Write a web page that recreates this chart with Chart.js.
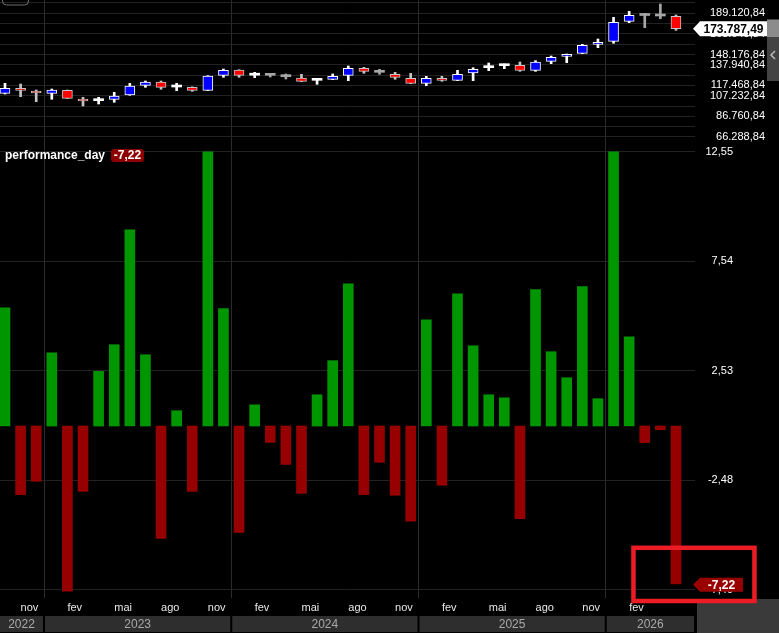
<!DOCTYPE html>
<html>
<head>
<meta charset="utf-8">
<script src="https://cdn.jsdelivr.net/npm/chart.js@4.4.1/dist/chart.umd.min.js"></script>
<style>
  html, body { margin: 0; padding: 0; background: #000; }
  #wrap { position: relative; width: 779px; height: 633px; }
</style>
</head>
<body>
<div id="wrap"><canvas id="perfChart"></canvas></div>
<script>
const periods = [
  'out/22', 'nov/22', 'dez/22',
  'jan/23', 'fev/23', 'mar/23', 'abr/23', 'mai/23', 'jun/23', 'jul/23', 'ago/23', 'set/23', 'out/23', 'nov/23', 'dez/23',
  'jan/24', 'fev/24', 'mar/24', 'abr/24', 'mai/24', 'jun/24', 'jul/24', 'ago/24', 'set/24', 'out/24', 'nov/24', 'dez/24',
  'jan/25', 'fev/25', 'mar/25', 'abr/25', 'mai/25', 'jun/25', 'jul/25', 'ago/25', 'set/25', 'out/25', 'nov/25', 'dez/25',
  'jan/26', 'fev/26', 'mar/26', 'abr/26', 'mai/26'
];

// monthly candles
const open = [
  109681, 114646, 111965, 109681, 112660, 104021, 102336, 103726, 107993, 117625, 120902, 115937, 115639, 112660, 127556,
  132818, 127654, 127556, 126166, 124874, 122590, 123583, 127556, 134505, 130535, 128549, 124576,
  119611, 124576, 122590, 129839, 135101, 137088, 137485, 132520, 141457, 146422, 149401, 158338,
  161317, 181177, 186937, 186440, 186142
];
const high = [
  119611, 118916, 112958, 113951, 112958, 105712, 105712, 110674, 119611, 121895, 121895, 119611, 116100, 127157, 133811,
  133100, 130535, 129542, 128846, 128549, 123881, 128846, 136790, 135499, 133513, 130535, 129542,
  126563, 126563, 132520, 135101, 139769, 138776, 140762, 142053, 146720, 148700, 158338, 163601,
  185149, 191107, 189121, 198356, 187433
];
const low = [
  108990, 106304, 101340, 103726, 104400, 97070, 99056, 100744, 107700, 115639, 113654, 112263, 111667, 112400, 125569,
  125569, 125172, 125867, 123881, 121300, 118618, 123300, 122193, 129542, 128549, 123583, 119300,
  117228, 121597, 122300, 122193, 132123, 134108, 131527, 131527, 139074, 140067, 149100, 154962,
  159331, 179787, 174822, 183759, 172240
];
const close = [
  114646, 112660, 109979, 112958, 104719, 102035, 102336, 106999, 116930, 120902, 115639, 115937, 112660, 126860, 132520,
  127556, 127654, 127556, 126166, 121597, 122590, 126563, 134505, 131527, 130535, 125569, 119611,
  124576, 122590, 128549, 133513, 135101, 137088, 132520, 140762, 145429, 148408, 157345, 160324,
  180184, 187135, 186937, 186440, 173787.49
];

// performance_day (%)
const performance = [
  5.41, -3.14, -2.53, 3.35, -7.56, -2.99, 2.50, 3.72, 8.98, 3.26, -5.14, 0.70, -2.99, 12.55, 5.37,
  -4.87, 0.97, -0.75, -1.76, -3.08, 1.43, 2.99, 6.51, -3.14, -1.66, -3.17, -4.36,
  4.86, -2.71, 6.05, 3.67, 1.43, 1.29, -4.24, 6.24, 3.40, 2.21, 6.38, 1.25,
  12.55, 4.08, -0.76, -0.17, -7.22
];

const priceTicks = [199356.84, 189120.84, 178884.84, 168648.84, 158412.84, 148176.84, 137940.84,
  127704.84, 117468.84, 107232.84, 96996.84, 86760.84, 76524.84, 66288.84];
const priceLabels = [189120.84, 168648.84, 148176.84, 137940.84, 117468.84, 107232.84, 86760.84, 66288.84];
const perfTicks = [12.55, 7.54, 2.53, -2.48, -7.49];
const shownMonths = ['fev', 'mai', 'ago', 'nov'];

function fmt(v) {
  const parts = Math.abs(v).toFixed(2).split('.');
  return (v < 0 ? '-' : '') + parts[0].replace(/\B(?=(\d{3})+(?!\d))/g, '.') + ',' + parts[1];
}

const isUp = i => close[i] > open[i];
const isDown = i => close[i] < open[i];
const dojiColor = i => (i > 0 && close[i] > close[i - 1]) ? '#ffffff' : '#a6a6a6';
const wickColor = i => isUp(i) ? '#ffffff' : isDown(i) ? '#c4c4c4' : dojiColor(i);

Chart.defaults.font.family = '"Liberation Sans", Arial, sans-serif';

function drawTag(ctx, tipX, y, w, h, fill, color, text) {
  ctx.beginPath();
  ctx.moveTo(tipX, y);
  ctx.lineTo(tipX + 7, y - h / 2);
  ctx.lineTo(tipX + w, y - h / 2);
  ctx.lineTo(tipX + w, y + h / 2);
  ctx.lineTo(tipX + 7, y + h / 2);
  ctx.closePath();
  ctx.fillStyle = fill;
  ctx.fill();
  ctx.fillStyle = color;
  ctx.font = 'bold 12px "Liberation Sans"';
  ctx.textAlign = 'center';
  ctx.textBaseline = 'middle';
  ctx.fillText(text, tipX + 7 + (w - 7) / 2, y + 1);
}

const overlay = {
  id: 'overlay',
  afterDraw(chart) {
    const { ctx, chartArea: a, scales: { x, yPrice, yPerf } } = chart;
    const W = chart.width, H = chart.height;
    const last = periods.length - 1;
    ctx.save();

    // year row
    const groups = [];
    periods.forEach((p, i) => {
      const yr = '20' + p.split('/')[1];
      const g = groups[groups.length - 1];
      if (g && g.year === yr) g.last = i; else groups.push({ year: yr, first: i, last: i });
    });
    const rowTop = a.bottom + 18, rowH = 16;
    ctx.font = '12px "Liberation Sans"';
    ctx.textAlign = 'center';
    ctx.textBaseline = 'middle';
    groups.forEach((g, k) => {
      const l = Math.max(a.left, x.getPixelForValue(g.first - 0.5) + 1);
      const r = k === groups.length - 1 ? a.right - 1 : x.getPixelForValue(g.last + 0.5) - 1;
      ctx.fillStyle = '#2e2e2e';
      ctx.fillRect(l, rowTop, r - l, rowH);
      ctx.fillStyle = '#a8a8a8';
      ctx.fillText(g.year, (l + r) / 2, rowTop + rowH / 2 + 1);
    });

    // corner block
    ctx.fillStyle = '#3a3a3a';
    ctx.fillRect(a.right + 2, a.bottom + 1, W - a.right - 2, H - a.bottom - 1);

    // scroll strip
    ctx.fillStyle = '#444444';
    ctx.fillRect(767, 19, 12, 62);
    ctx.fillStyle = '#8c8c8c';
    ctx.fillRect(767, 20, 12, 17);
    ctx.strokeStyle = '#bbbbbb';
    ctx.lineWidth = 1.5;
    ctx.beginPath();
    ctx.moveTo(775, 51); ctx.lineTo(771, 55); ctx.lineTo(775, 59);
    ctx.stroke();

    // top-left legend box stub
    ctx.strokeStyle = '#6e6e6e';
    ctx.lineWidth = 1;
    ctx.beginPath();
    ctx.roundRect(2.5, -10, 26, 15, 4);
    ctx.stroke();

    // price tag
    drawTag(ctx, a.right - 2, yPrice.getPixelForValue(close[last]), 74, 15, '#ffffff', '#000000', fmt(close[last]));

    // performance_day title + badge
    ctx.font = 'bold 12px "Liberation Sans"';
    ctx.textAlign = 'left';
    ctx.textBaseline = 'middle';
    ctx.fillStyle = '#ffffff';
    const ty = yPerf.top + 5.5;
    ctx.fillText('performance_day', 5, ty);
    const tw = ctx.measureText('performance_day').width;
    const bx = 5 + tw + 6;
    ctx.fillStyle = '#8e0000';
    ctx.beginPath();
    ctx.roundRect(bx, ty - 6.5, 33, 13, 3);
    ctx.fill();
    ctx.fillStyle = '#ffffff';
    ctx.textAlign = 'center';
    ctx.fillText(fmt(performance[last]), bx + 16.5, ty + 0.5);

    // performance tag
    const py = yPerf.getPixelForValue(performance[last]);
    drawTag(ctx, a.right - 2, py + 1, 50, 14, '#990000', '#ffffff', fmt(performance[last]));

    // highlight box
    const lx = x.getPixelForValue(last);
    ctx.strokeStyle = '#ec1c24';
    ctx.lineWidth = 4.5;
    ctx.strokeRect(lx - 42.5, py - 36, 121, a.bottom + 3 - (py - 36));

    ctx.restore();
  }
};

new Chart(document.getElementById('perfChart'), {
  type: 'bar',
  data: {
    datasets: [
      {
        label: 'body',
        data: periods.map((p, i) => ({ x: i, y: [open[i], close[i]] })),
        yAxisID: 'yPrice',
        grouped: false,
        barThickness: 10,
        minBarLength: 2,
        borderSkipped: false,
        backgroundColor: c => isUp(c.dataIndex) ? '#0000ff' : isDown(c.dataIndex) ? '#ff0000' : dojiColor(c.dataIndex),
        borderColor: c => isUp(c.dataIndex) ? '#ffffff' : '#c4c4c4',
        borderWidth: c => (isUp(c.dataIndex) || isDown(c.dataIndex)) ? 1 : 0
      },
      {
        label: 'wick',
        data: periods.map((p, i) => ({ x: i, y: [low[i], high[i]] })),
        yAxisID: 'yPrice',
        grouped: false,
        barThickness: 2,
        borderWidth: 0,
        backgroundColor: c => wickColor(c.dataIndex)
      },
      {
        label: 'performance_day',
        data: periods.map((p, i) => ({ x: i, y: performance[i] })),
        yAxisID: 'yPerf',
        grouped: false,
        barThickness: 10,
        borderWidth: 0,
        backgroundColor: c => performance[c.dataIndex] >= 0 ? '#009600' : '#960000'
      }
    ]
  },
  options: {
    responsive: true,
    maintainAspectRatio: false,
    animation: false,
    layout: { padding: 0 },
    plugins: { legend: { display: false }, tooltip: { enabled: false } },
    scales: {
      x: {
        type: 'linear',
        min: -0.32,
        max: 44.22,
        offset: false,
        border: { display: false },
        grid: {
          offset: true,
          drawTicks: false,
          lineWidth: 1,
          color: c => (c.index !== undefined && c.index < periods.length && periods[c.index].startsWith('jan')) ? '#2c2c2c' : 'rgba(0,0,0,0)'
        },
        ticks: {
          autoSkip: false,
          maxRotation: 0,
          minRotation: 0,
          align: 'start',
          padding: 3,
          color: '#e8e8e8',
          font: { size: 11 },
          callback: v => {
            // the running (last) month gets no label
            if (v >= periods.length - 1 || !periods[v]) return '';
            const m = periods[v].split('/')[0];
            return shownMonths.includes(m) ? m : '';
          }
        },
        afterBuildTicks: s => { s.ticks = periods.map((p, i) => ({ value: i })); },
        afterFit: s => { s.height = 35; s.paddingLeft = 0; s.paddingRight = 0; }
      },
      yPrice: {
        position: 'right',
        stack: 'panes',
        stackWeight: 150,
        min: 53378,
        max: 202328,
        border: { display: false },
        grid: { color: '#222222', drawTicks: false },
        ticks: {
          autoSkip: false,
          mirror: true,
          crossAlign: 'near',
          padding: 70,
          color: '#ffffff',
          font: { size: 11 },
          callback: v => priceLabels.some(p => Math.abs(p - v) < 0.01) ? fmt(v) : ''
        },
        afterBuildTicks: s => { s.ticks = priceTicks.map(v => ({ value: v })); },
        afterFit: s => { s.width = 84; s.paddingTop = 0; s.paddingBottom = 0; }
      },
      yPerf: {
        position: 'right',
        stack: 'panes',
        stackWeight: 448,
        min: -7.87,
        max: 12.63,
        border: { display: false },
        grid: { color: '#222222', drawTicks: false },
        ticks: {
          autoSkip: false,
          mirror: true,
          crossAlign: 'near',
          padding: 38,
          color: '#ffffff',
          font: { size: 11 },
          callback: v => fmt(v)
        },
        afterBuildTicks: s => { s.ticks = perfTicks.map(v => ({ value: v })); },
        afterFit: s => { s.width = 84; s.paddingTop = 0; s.paddingBottom = 0; }
      }
    }
  },
  plugins: [overlay]
});
</script>
</body>
</html>
